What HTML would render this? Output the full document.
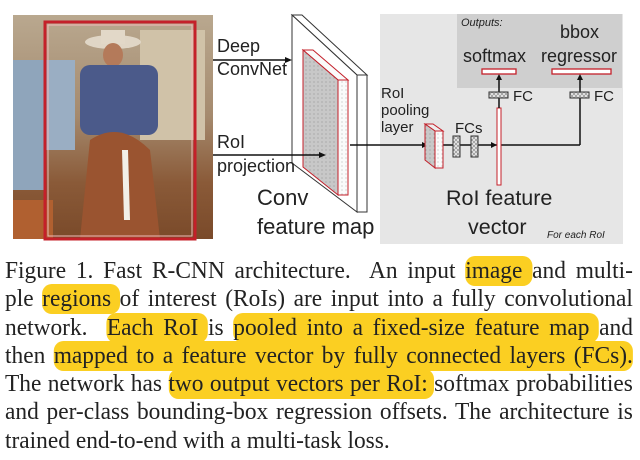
<!DOCTYPE html>
<html><head><meta charset="utf-8"><style>
html,body{margin:0;padding:0;background:#fff;width:640px;height:460px;overflow:hidden;position:relative}
svg{position:absolute;left:0;top:0}
.cap{position:absolute;left:5px;top:257px;width:644px;transform:scaleX(0.975);transform-origin:0 0;font-family:"Liberation Serif",serif;font-size:24px;line-height:28.3px;color:#222}
.cap div{text-align:justify;text-align-last:justify;white-space:nowrap;height:28.3px}
.cap div.last{text-align-last:left}
.h{background:#fbcf22;border-radius:10px;padding:2px 0}
.f{font-family:"Liberation Sans",sans-serif;fill:#222}
</style></head><body>
<svg width="640" height="250" viewBox="0 0 640 250">
<defs>
<pattern id="dot" width="4" height="4" patternUnits="userSpaceOnUse"><rect width="4" height="4" fill="#c8c8c8"/><circle cx="2" cy="2" r="0.6" fill="#999"/></pattern>
<pattern id="dotw" width="4" height="4" patternUnits="userSpaceOnUse"><rect width="4" height="4" fill="#fafafa"/><circle cx="2" cy="2" r="0.6" fill="#bbb"/></pattern>
<pattern id="hat" width="4" height="4" patternUnits="userSpaceOnUse"><rect width="4" height="4" fill="#eee"/><path d="M0 0L4 4M4 0L0 4" stroke="#999" stroke-width="0.8"/></pattern>
<linearGradient id="ph" x1="0" y1="0" x2="0" y2="1"><stop offset="0" stop-color="#b9a88f"/><stop offset="0.45" stop-color="#a58a6e"/><stop offset="0.75" stop-color="#8a5a38"/><stop offset="1" stop-color="#7a4a2a"/></linearGradient>
</defs>
<rect x="13" y="15" width="200" height="224" fill="url(#ph)"/>
<rect x="13" y="60" width="32" height="130" fill="#8fa5bb"/>
<rect x="45" y="60" width="30" height="90" fill="#9aaec3"/>
<rect x="140" y="30" width="65" height="110" fill="#d0c2a8"/>
<ellipse cx="113" cy="42" rx="28" ry="7" fill="#e0d6c6"/>
<rect x="101" y="30" width="24" height="14" fill="#e2d8c8"/>
<ellipse cx="113" cy="55" rx="10" ry="12" fill="#b47a5a"/>
<rect x="80" y="65" width="78" height="70" rx="10" fill="#4b5a8a"/>
<path d="M90 140 Q120 120 150 150 L160 239 L80 239 Z" fill="#9a5430"/>
<path d="M122 150 L128 150 L130 220 L124 220Z" fill="#f2efe8"/>
<rect x="13" y="200" width="40" height="39" fill="#b06030"/>
<rect x="45" y="22" width="150" height="217" fill="none" stroke="#c4202a" stroke-width="3"/>
<rect x="48" y="25" width="144" height="211" fill="none" stroke="#f0b8b8" stroke-width="1"/>
<rect x="380" y="14" width="243" height="230" fill="#e6e6e6"/>
<rect x="457" y="14" width="165" height="74" fill="#cfcfcf"/>
<polygon points="292,15 302,15 367,75 357,75" fill="#fff" stroke="#333" stroke-width="1"/>
<polygon points="292,15 357,75 357,212 292,163" fill="#fff" stroke="#333" stroke-width="1"/>
<rect x="357" y="75" width="10" height="137" fill="#fff" stroke="#333" stroke-width="1"/>
<polygon points="303,50 313,50 348,80 338,80" fill="#fafafa" stroke="#c4202a" stroke-width="1"/>
<polygon points="303,50 338,80 338,195 303,167" fill="url(#dot)" stroke="#c4202a" stroke-width="1"/>
<rect x="338" y="80" width="10" height="115" fill="url(#dotw)" stroke="#c4202a" stroke-width="1"/>
<line x1="213" y1="60" x2="288" y2="60" stroke="#111" stroke-width="1.5"/><polygon points="292,60 285,57 285,63" fill="#111"/>
<line x1="213" y1="155" x2="322" y2="155" stroke="#111" stroke-width="1.5"/><polygon points="326,155 319,152 319,158" fill="#111"/>
<text class="f" x="217" y="52" font-size="18">Deep</text>
<text class="f" x="217" y="75" font-size="18">ConvNet</text>
<text class="f" x="217" y="148" font-size="18">RoI</text>
<text class="f" x="217" y="172" font-size="18">projection</text>
<text class="f" x="257" y="205" font-size="22">Conv</text>
<text class="f" x="257" y="234" font-size="22">feature map</text>
<line x1="350" y1="145" x2="580" y2="145" stroke="#111" stroke-width="1.5"/>
<polygon points="428,145 422,142 422,148" fill="#111"/>
<polygon points="497,145 491,142 491,148" fill="#111"/>
<text class="f" x="381" y="98" font-size="15">RoI</text>
<text class="f" x="381" y="115" font-size="15">pooling</text>
<text class="f" x="381" y="132" font-size="15">layer</text>
<polygon points="425,124 433,124 443,131 435,131" fill="#eee" stroke="#c4202a" stroke-width="1"/>
<polygon points="425,124 435,131 435,168 425,160" fill="url(#dot)" stroke="#c4202a" stroke-width="1"/>
<rect x="435" y="131" width="8" height="37" fill="url(#dotw)" stroke="#c4202a" stroke-width="1"/>
<text class="f" x="455" y="133" font-size="15">FCs</text>
<rect x="453" y="136" width="7" height="21" fill="url(#hat)" stroke="#333" stroke-width="1"/>
<rect x="471" y="136" width="7" height="21" fill="url(#hat)" stroke="#333" stroke-width="1"/>
<rect x="497" y="108" width="4" height="77" fill="#fff" stroke="#c4202a" stroke-width="1"/>
<text class="f" x="446" y="205" font-size="21.5">RoI feature</text>
<text class="f" x="468" y="234" font-size="21.5">vector</text>
<text class="f" x="547" y="238" font-size="10" font-style="italic">For each RoI</text>
<line x1="499" y1="108" x2="499" y2="76" stroke="#111" stroke-width="1.5"/><polygon points="499,74 496,80 502,80" fill="#111"/>
<rect x="489" y="92" width="19" height="6" fill="url(#hat)" stroke="#333" stroke-width="1"/>
<text class="f" x="513" y="101" font-size="15">FC</text>
<line x1="580" y1="145" x2="580" y2="76" stroke="#111" stroke-width="1.5"/><polygon points="580,74 577,80 583,80" fill="#111"/>
<rect x="570" y="92" width="19" height="6" fill="url(#hat)" stroke="#333" stroke-width="1"/>
<text class="f" x="594" y="101" font-size="15">FC</text>
<text class="f" x="461" y="26" font-size="11" font-style="italic">Outputs:</text>
<text class="f" x="560" y="38" font-size="18">bbox</text>
<text class="f" x="463" y="62" font-size="18">softmax</text>
<text class="f" x="541" y="62" font-size="18">regressor</text>
<rect x="482" y="69" width="34" height="5" fill="#fff" stroke="#c4202a" stroke-width="1.3"/>
<rect x="552" y="69" width="59" height="5" fill="#fff" stroke="#c4202a" stroke-width="1.3"/>
</svg>
<div class="cap">
<div>Figure 1. Fast R-CNN architecture.&nbsp; An input <span class="h">image </span>and multi-</div>
<div>ple <span class="h">regions </span>of interest (RoIs) are input into a fully convolutional</div>
<div>network.&nbsp; <span class="h">Each RoI </span>is <span class="h">pooled into a fixed-size feature map </span>and</div>
<div>then <span class="h">mapped to a feature vector by fully connected layers (FCs).</span></div>
<div>The network has <span class="h">two output vectors per RoI: </span>softmax probabilities</div>
<div>and per-class bounding-box regression offsets. The architecture is</div>
<div class="last">trained end-to-end with a multi-task loss.</div>
</div>
</body></html>
